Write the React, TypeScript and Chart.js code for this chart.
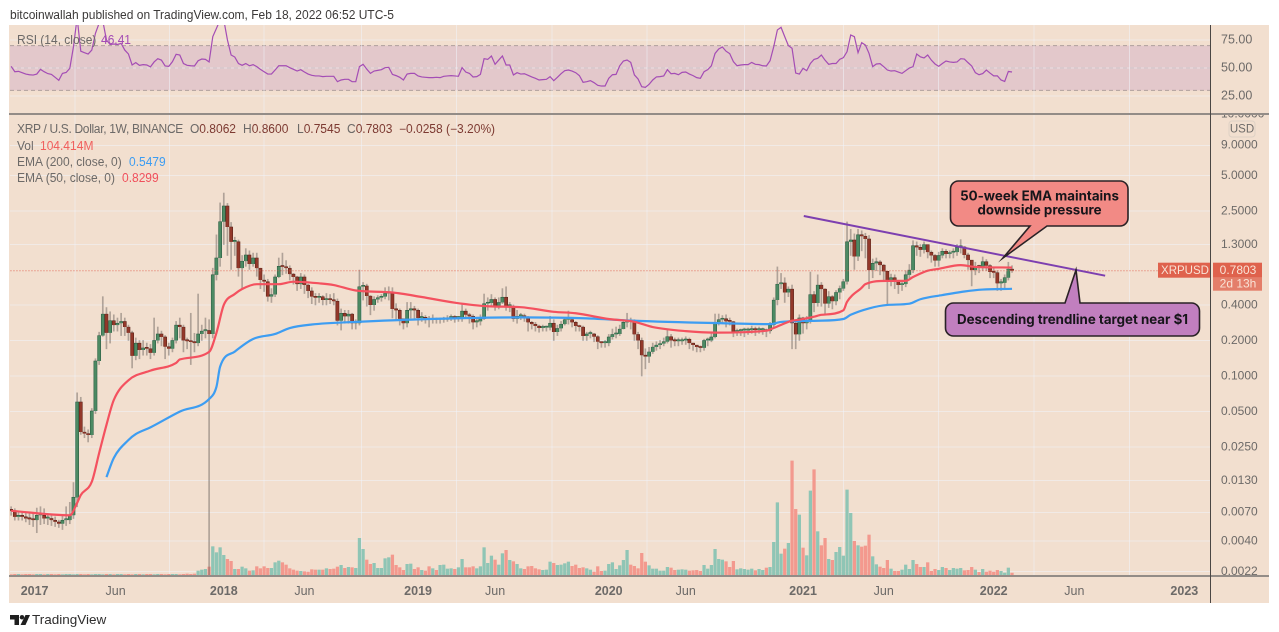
import React, { useEffect, useRef } from "react";
import { Chart, registerables } from "chart.js";

Chart.register(...registerables);

// first candle is week -7; week 0 is the first week of January 2017
const firstWeek = -7;
const firstOpen = 0.0074;

const closes = [
  .0072,.0064,.0066,.0064,.0062,.0061,.0060,.0066,.0066,.0062,
  .0062,.0060,.0058,.0056,.0060,.0060,.0066,.0094,.0602,.0335,
  .0325,.0316,.0505,.134,.22,.335,.232,.294,.27,.28,
  .29,.26,.232,.148,.19,.166,.173,.17,.157,.20,
  .227,.214,.177,.17,.20,.27,.26,.20,.197,.194,
  .19,.227,.24,.243,.227,.72,1.0,2.03,2.76,1.83,
  1.37,1.37,.82,.94,1.06,.89,1.0,.82,.65,.63,
  .47,.49,.69,.85,.84,.82,.73,.69,.60,.69,
  .59,.525,.47,.46,.47,.44,.45,.44,.43,.294,
  .34,.32,.335,.28,.28,.57,.58,.476,.40,.445,
  .46,.47,.50,.515,.37,.36,.305,.28,.36,.37,
  .36,.31,.31,.305,.30,.305,.30,.30,.30,.31,
  .315,.31,.31,.355,.33,.32,.285,.29,.305,.41,
  .415,.445,.385,.42,.465,.39,.39,.305,.32,.32,
  .315,.285,.275,.265,.255,.257,.257,.28,.236,.253,
  .275,.30,.30,.285,.265,.26,.218,.227,.227,.215,
  .195,.19,.19,.214,.225,.227,.25,.285,.294,.29,
  .225,.20,.15,.146,.16,.176,.183,.188,.195,.215,
  .20,.197,.197,.20,.205,.19,.183,.176,.173,.20,
  .20,.214,.28,.30,.305,.29,.288,.236,.24,.243,
  .243,.245,.25,.245,.245,.245,.24,.27,.44,.60,
  .615,.51,.545,.28,.225,.31,.28,.29,.49,.415,
  .59,.545,.41,.47,.43,.51,.55,.63,1.37,1.42,
  1.03,1.57,1.53,1.45,.79,.9,.925,.87,.77,.65,
  .68,.64,.59,.60,.72,.79,1.27,1.23,1.17,1.3,
  1.12,1.05,.95,1.05,1.14,1.08,1.11,1.12,1.23,1.24,
  1.06,.96,.79,.85,.84,.93,.86,.76,.75,.61,
  .615,.68,.8062,.7803,
];

const highs = [
  .0078,.0075,.0072,.0070,.0069,.0070,.0069,.0076,.0078,.0075,
  .0068,.0066,.0064,.0060,.0066,.0078,.0085,.0125,.072,.066,
  .037,.035,.053,.14,.235,.47,.38,.35,.33,.31,
  .34,.31,.27,.24,.21,.20,.20,.19,.185,.31,
  .26,.24,.22,.19,.21,.29,.31,.27,.21,.34,
  .23,.495,.27,.31,.30,.82,1.57,2.93,3.55,2.9,
  2.0,1.5,1.42,1.05,1.2,1.15,1.1,1.1,.82,.72,
  .66,.55,.72,1.0,1.1,.95,.86,.74,.7,.74,
  .72,.6,.56,.5,.5,.48,.5,.49,.5,.45,
  .37,.36,.36,.34,.3,.79,.62,.6,.48,.47,
  .48,.49,.56,.57,.56,.41,.37,.3,.42,.42,
  .39,.37,.345,.325,.32,.33,.31,.31,.315,.325,
  .33,.325,.32,.40,.37,.34,.33,.31,.33,.495,
  .46,.49,.46,.46,.55,.57,.42,.4,.36,.34,
  .335,.32,.29,.285,.27,.27,.265,.32,.30,.27,
  .29,.31,.355,.31,.29,.27,.265,.235,.24,.23,
  .22,.195,.2,.225,.25,.26,.27,.3,.34,.31,
  .30,.235,.21,.17,.175,.19,.195,.2,.21,.245,
  .225,.21,.21,.21,.215,.21,.19,.18,.18,.205,
  .21,.23,.335,.335,.325,.33,.31,.29,.25,.25,
  .255,.255,.265,.26,.26,.255,.25,.285,.46,.84,
  .74,.68,.57,.59,.30,.33,.315,.32,.76,.52,
  .72,.62,.55,.52,.48,.53,.58,.66,2.02,1.75,
  1.6,1.75,1.7,1.62,1.55,.98,1.0,.95,.88,.74,
  .73,.72,.62,.63,.78,.88,1.4,1.37,1.3,1.37,
  1.28,1.15,1.07,1.12,1.2,1.18,1.15,1.2,1.3,1.43,
  1.25,1.1,.93,.92,.87,1.02,.97,.88,.83,.78,
  .66,.72,.92,.86,
];

const lows = [
  .0066,.0060,.0060,.0060,.0058,.0055,.0053,.0047,.0055,.0056,
  .0055,.0054,.0053,.0052,.0050,.0054,.0056,.0062,.0078,.032,
  .030,.0276,.030,.048,.125,.217,.17,.19,.24,.24,
  .22,.22,.20,.117,.137,.14,.15,.15,.14,.15,
  .19,.18,.14,.15,.16,.19,.21,.16,.17,.125,
  .16,.18,.2,.21,.002,.21,.65,.85,1.3,1.05,
  .8,1.05,.7,.55,.85,.8,.85,.7,.55,.52,
  .43,.42,.47,.68,.72,.74,.65,.6,.53,.55,
  .5,.46,.41,.4,.42,.4,.4,.41,.4,.27,
  .245,.28,.28,.25,.25,.27,.44,.39,.33,.36,
  .42,.43,.45,.44,.31,.3,.27,.25,.26,.31,
  .3,.27,.29,.28,.26,.28,.28,.28,.285,.29,
  .295,.285,.29,.29,.31,.28,.25,.26,.27,.3,
  .36,.39,.36,.37,.41,.36,.35,.29,.28,.3,
  .29,.24,.25,.24,.235,.24,.24,.245,.2,.22,
  .24,.27,.275,.26,.24,.24,.2,.2,.21,.195,
  .17,.175,.175,.18,.205,.21,.22,.25,.26,.25,
  .2,.17,.1,.115,.13,.155,.165,.17,.18,.19,
  .175,.18,.18,.185,.185,.17,.165,.16,.16,.165,
  .18,.195,.21,.27,.28,.26,.27,.215,.22,.22,
  .215,.225,.23,.22,.23,.225,.215,.23,.26,.40,
  .55,.42,.47,.17,.17,.2,.23,.25,.28,.35,
  .39,.39,.33,.38,.37,.4,.45,.53,.6,1.05,
  .8,.95,1.15,1.0,.55,.68,.78,.72,.65,.4,
  .58,.55,.5,.53,.57,.68,.75,1.05,1.03,1.1,
  1.0,.92,.85,.85,1.0,1.0,1.0,1.0,1.05,1.1,
  1.0,.8,.58,.72,.75,.78,.78,.68,.68,.53,
  .53,.55,.65,.7545,
];

const volumes = [
  48,60,60,48,60,60,48,60,60,48,
  60,60,48,60,48,60,60,48,60,60,
  48,60,48,60,60,48,60,60,48,60,
  60,48,60,48,60,60,48,60,60,48,
  60,60,48,60,60,60,48,60,72,60,
  72,180,216,240,324,1056,840,1020,744,600,
  528,240,240,324,264,180,192,336,264,336,
  276,276,480,540,480,396,264,216,180,168,
  156,144,228,216,216,216,264,240,252,324,
  384,276,312,300,276,1356,960,576,420,456,
  276,276,624,660,756,384,300,204,420,432,
  240,300,204,180,336,264,204,384,396,252,
  264,240,300,600,300,300,336,264,336,1020,
  456,720,576,396,804,924,564,516,420,264,
  240,336,348,264,228,204,216,504,456,384,
  396,444,504,348,396,276,300,264,216,144,
  336,168,180,420,480,240,372,564,924,396,
  348,264,816,504,372,252,252,180,180,312,
  288,204,216,228,216,180,192,204,168,384,
  252,384,960,600,576,516,312,528,228,264,
  240,216,252,192,240,204,288,312,1212,2640,
  792,972,1176,4140,2400,2196,1008,732,3060,3828,
  1596,1092,1356,600,564,852,1032,720,3096,2256,
  1248,1092,1044,1080,1476,696,408,324,276,564,
  252,168,168,216,396,240,564,420,312,312,
  480,168,240,204,312,276,204,276,252,276,
  192,204,312,216,132,240,144,180,144,204,
  168,108,288,104,
];

const rsiValues = [
  51.5,46.7,47,45.8,44.6,44,43.7,44.6,48.8,46.7,
  45,44.3,41.7,39,45.2,46,49.7,69,95,65,
  63.7,62.5,66,81,90,92,75,71,71.4,71,
  72,66,62.5,52.7,54.8,52.4,53,52.7,51,55.4,
  58.3,57,51.8,51.5,55.7,62.2,61.6,54,52.4,52,
  51.8,56.5,58,57.7,55.4,78,85.4,93,93,75,
  61.6,59.8,54,52.4,54,52,53,51.2,48.8,46.7,
  44.6,44.6,48.2,52,52,52,50.3,48.8,47.3,48.5,
  46.4,44.6,43.5,42.9,42.9,42.3,42.6,42.6,42.6,37.8,
  39.3,39.9,39.9,37.8,37.8,51.2,53.3,49,45.2,47.3,
  47.9,48.5,50.3,50.6,44.3,43.2,41.7,39.3,44.6,45.2,
  45.2,42.9,42,41.7,41.4,41.4,41.7,41.4,42.6,42.9,
  43.2,42.9,42.6,50.3,46.4,45.2,42,42.3,44.3,58.3,
  57.7,60.7,53.3,57.1,60.7,52.7,52.7,43.8,45.8,44.6,
  44.9,43.5,42,40.8,39.3,39.6,39.9,42.3,38.7,41.7,
  44.9,47.6,48.2,47.3,45.8,43.2,37.2,37.8,38.7,36.9,
  34.5,33.9,33.9,40.8,44,44.3,52,56.2,57.1,55,
  43.8,40.2,33.3,32.7,35.4,39.3,42,42.3,42.9,48.5,
  44.9,45.2,44,46.1,46.4,44.6,43.2,41.4,40.8,46.7,
  48.5,52,63,67,68.8,65,62.8,55.7,52,52.7,
  53,53,55,53.3,53,52,51.8,56.5,69,84,
  86.3,78,70,67.6,45.5,44.6,49.7,47.6,54,57.7,
  58.6,61.6,57,53.3,54,54,57.7,59.2,64.6,79.5,
  78,63.7,72.6,70.5,63,51.2,53.6,53.9,51.2,48.2,
  47.3,47.6,46.4,45.2,47.6,50,51.2,62.5,60,59,
  61.6,57,53.6,51.5,54,56.2,55.4,55,55.4,58.3,
  58,54.8,51.8,45.8,44,45,48.2,45.5,43,43,
  39.3,38,46.9,46.41,
];

const ema50Weeks = [-7,9,11,12,15,17,19,21,25,31,38,39,47,49,51,54,56,60,66,70,77,81,87,97,105,114,123,132,141,147,156,163,168,177,185,199,201,206,208,212,214,220,221,225,226,232,237,239,243,246,252,256,266];
const ema50Values = [.0072,.0066,.0084,.0098,.0127,.0222,.0385,.0626,.092,.111,.129,.138,.16,.232,.4,.495,.546,.6,.6,.63,.61,.59,.53,.51,.467,.418,.39,.383,.35,.34,.304,.288,.26,.24,.233,.242,.255,.294,.3,.318,.33,.36,.425,.56,.6,.64,.64,.69,.78,.81,.87,.84,.8299];

const ema200Weeks = [19,21,25,27,31,39,47,49,50,54,59,65,69,75,88,104,132,150,163,187,200,203,213,220,222,227,232,238,241,247,253,258,266];
const ema200Values = [.0139,.0202,.0287,.0322,.0367,.0499,.0638,.081,.12,.161,.206,.227,.255,.273,.288,.302,.314,.308,.294,.28,.275,.287,.294,.304,.33,.374,.4,.41,.447,.485,.52,.54,.5479];

const trendWeeks = [209.2, 291.4];
const trendValues = [2.27, 0.708];

const lastPrice = 0.7803;

const priceTicks = [0.0022,0.004,0.007,0.013,0.025,0.05,0.1,0.2,0.4,1.3,2.5,5,9,16.6];
const priceTickLabels = ["0.0022","0.0040","0.0070","0.0130","0.0250","0.0500","0.1000","0.2000","0.4000","1.3000","2.5000","5.0000","9.0000","10.0000"];
const rsiTicks = [25,50,75];
const rsiTickLabels = ["25.00","50.00","75.00"];
const timeTicks = [-0.6,21.5,51,73,104,125,156,177,209,231,261,283,313];
const timeTickLabels = ["2017","Jun","2018","Jun","2019","Jun","2020","Jun","2021","Jun","2022","Jun","2023"];

const FONT = "'Liberation Sans', Arial, sans-serif";
const BOLD_FONT = "Inter, 'Liberation Sans', sans-serif";
const TEXT = "#6d6a68";
const BG = "#f2dfcf";

const weeks = closes.map((_, i) => i + firstWeek);
const opens = closes.map((_, i) => (i === 0 ? firstOpen : closes[i - 1]));
const rising = closes.map((c, i) => c >= opens[i]);

function callout(ctx: CanvasRenderingContext2D, x: number, y: number, w: number, h: number, r: number,
  tail: "top" | "bottom", t1: number, t2: number, tipX: number, tipY: number, fill: string) {
  ctx.beginPath();
  ctx.moveTo(x + r, y);
  if (tail === "top") { ctx.lineTo(t1, y); ctx.lineTo(tipX, tipY); ctx.lineTo(t2, y); }
  ctx.lineTo(x + w - r, y);
  ctx.arcTo(x + w, y, x + w, y + r, r);
  ctx.lineTo(x + w, y + h - r);
  ctx.arcTo(x + w, y + h, x + w - r, y + h, r);
  if (tail === "bottom") { ctx.lineTo(t2, y + h); ctx.lineTo(tipX, tipY); ctx.lineTo(t1, y + h); }
  ctx.lineTo(x + r, y + h);
  ctx.arcTo(x, y + h, x, y + h - r, r);
  ctx.lineTo(x, y + r);
  ctx.arcTo(x, y, x + r, y, r);
  ctx.closePath();
  ctx.fillStyle = fill;
  ctx.fill();
  ctx.lineWidth = 1.6;
  ctx.strokeStyle = "#2a2226";
  ctx.stroke();
}

const framePlugin = {
  id: "frame",
  beforeDraw(chart: any) {
    const { ctx, chartArea, scales } = chart;
    ctx.save();
    ctx.fillStyle = BG;
    ctx.fillRect(9, 25, 1260, 578);
    const y70 = scales.yRsi.getPixelForValue(70);
    const y30 = scales.yRsi.getPixelForValue(30);
    const y50 = scales.yRsi.getPixelForValue(50);
    ctx.fillStyle = "rgba(170,110,190,0.2)";
    ctx.fillRect(chartArea.left, y70, chartArea.right - chartArea.left, y30 - y70);
    ctx.restore();
    ctx.save();
    ctx.strokeStyle = "rgba(135,125,125,0.6)";
    ctx.setLineDash([4, 3]);
    for (const yy of [y70, y50, y30]) {
      ctx.beginPath();
      ctx.moveTo(chartArea.left, yy);
      ctx.lineTo(chartArea.right, yy);
      ctx.stroke();
    }
    ctx.restore();
  },
  afterDraw(chart: any) {
    const { ctx, chartArea, scales } = chart;
    ctx.save();
    // the top axis label is cut off by the pane border
    const sep = scales.y.top;
    ctx.fillStyle = BG;
    ctx.fillRect(chartArea.right + 2, sep - 8, 57, 8);
    // pane separators
    ctx.strokeStyle = "#938c87";
    ctx.lineWidth = 2;
    ctx.beginPath(); ctx.moveTo(9, sep); ctx.lineTo(1269, sep); ctx.stroke();
    ctx.beginPath(); ctx.moveTo(9, chartArea.bottom); ctx.lineTo(1269, chartArea.bottom); ctx.stroke();
    ctx.strokeStyle = "#4a4644";
    ctx.lineWidth = 1;
    ctx.beginPath(); ctx.moveTo(chartArea.right + 0.5, 25); ctx.lineTo(chartArea.right + 0.5, 603); ctx.stroke();

    // USD button
    ctx.beginPath();
    ctx.roundRect(1229, 121, 26, 16, 3);
    ctx.strokeStyle = "#dfd2c6";
    ctx.stroke();
    ctx.fillStyle = TEXT;
    ctx.font = `11.5px ${FONT}`;
    ctx.textAlign = "center";
    ctx.textBaseline = "middle";
    ctx.fillText("USD", 1242, 129.5);

    // last price tags
    const py = scales.y.getPixelForValue(lastPrice);
    ctx.fillStyle = "#df624d";
    ctx.fillRect(1158, py - 8, 52, 15);
    ctx.fillRect(1213, py - 8, 49, 15);
    ctx.fillStyle = "#e47e6a";
    ctx.fillRect(1213, py + 7, 49, 13);
    ctx.fillStyle = "#f9e3d6";
    ctx.font = `11.5px ${FONT}`;
    ctx.fillText("XRPUSD", 1185, py);
    ctx.font = `12px ${FONT}`;
    ctx.fillText("0.7803", 1238, py);
    ctx.fillText("2d 13h", 1238, py + 13.5);

    // annotations
    callout(ctx, 950.5, 181, 177.5, 45, 8, "bottom", 1030, 1047, 1003, 258, "#f28a85");
    callout(ctx, 945.5, 303, 254, 33, 8, "top", 1065, 1080, 1076, 270, "#c17fbf");
    ctx.fillStyle = "#17151a";
    ctx.font = `700 13.3px ${BOLD_FONT}`;
    ctx.fillText("50-week EMA maintains", 1039.5, 196.5);
    ctx.fillText("downside pressure", 1039.5, 210.5);
    ctx.fillText("Descending trendline target near $1", 1072.5, 320);
    ctx.restore();
  },
};

const legendLine: React.CSSProperties = {
  position: "absolute", whiteSpace: "nowrap", font: `12px ${FONT}`, color: TEXT, lineHeight: "16px",
};
const RED_VAL = "#7d3a32";

function Legend({ x, y, color, spacing, children }: { x: number; y: number; color?: string; spacing?: number; children: React.ReactNode }) {
  return <div style={{ ...legendLine, left: x, top: y, color: color ?? TEXT, letterSpacing: spacing ?? 0 }}>{children}</div>;
}

export default function App() {
  const ref = useRef<HTMLCanvasElement>(null);
  useEffect(() => {
    const fixWidth = (s: any) => { s.width = 69; };
    const chart = new Chart(ref.current!, {
      type: "bar",
      plugins: [framePlugin],
      data: {
        datasets: [
          {
            type: "line", label: "RSI", yAxisID: "yRsi", order: 1,
            data: weeks.map((x, i) => ({ x, y: rsiValues[i] })),
            borderColor: "#a44db5", borderWidth: 1.2, pointRadius: 0, tension: 0,
          },
          {
            type: "line", label: "Trend", yAxisID: "y", order: 1,
            data: trendWeeks.map((x, i) => ({ x, y: trendValues[i] })),
            borderColor: "#7d3fb0", borderWidth: 2, pointRadius: 0,
          },
          {
            type: "line", label: "Last", yAxisID: "y", order: 1,
            data: [{ x: -8, y: lastPrice }, { x: 321, y: lastPrice }],
            borderColor: "rgba(225,90,75,0.85)", borderWidth: 1, borderDash: [1, 2], pointRadius: 0,
          },
          {
            type: "line", label: "EMA 50", yAxisID: "y", order: 2,
            data: ema50Weeks.map((x, i) => ({ x, y: ema50Values[i] })),
            borderColor: "#f4515f", borderWidth: 2.2, pointRadius: 0, cubicInterpolationMode: "monotone",
          },
          {
            type: "line", label: "EMA 200", yAxisID: "y", order: 2,
            data: ema200Weeks.map((x, i) => ({ x, y: ema200Values[i] })),
            borderColor: "#3d9df2", borderWidth: 2.2, pointRadius: 0, cubicInterpolationMode: "monotone",
          },
          {
            type: "bar", label: "Body", yAxisID: "y", order: 3, grouped: false,
            data: weeks.map((x, i) => ({ x, y: [opens[i], closes[i]] })),
            backgroundColor: rising.map((u) => (u ? "#4c8a63" : "#93382a")),
            borderColor: rising.map((u) => (u ? "#2a5a40" : "#5a231a")),
            borderWidth: 0.6, barThickness: 3.2, minBarLength: 1.5,
          },
          {
            type: "bar", label: "Wick", yAxisID: "y", order: 4, grouped: false,
            data: weeks.map((x, i) => ({ x, y: [lows[i], highs[i]] })),
            backgroundColor: "rgba(95,88,84,0.45)", borderWidth: 0, barThickness: 1,
          },
          {
            type: "bar", label: "Volume", yAxisID: "yVol", order: 5, grouped: false,
            data: weeks.map((x, i) => ({ x, y: volumes[i] })),
            backgroundColor: rising.map((u) => (u ? "#8fc5b5" : "#f3998e")),
            borderWidth: 0, barThickness: 2.6,
          },
        ],
      } as any,
      options: {
        responsive: false,
        animation: false,
        devicePixelRatio: 2,
        layout: { padding: { left: 10, top: 25, right: 0, bottom: 0 } },
        plugins: { legend: { display: false }, tooltip: { enabled: false } },
        scales: {
          x: {
            type: "linear", min: -7.31, max: 320, offset: false,
            grid: { color: "rgba(240,243,250,0.55)", drawTicks: false },
            border: { display: false },
            afterBuildTicks: (s: any) => { s.ticks = timeTicks.map((value) => ({ value })); },
            afterFit: (s: any) => { s.height = 56; },
            ticks: {
              autoSkip: false, maxRotation: 0, padding: 8, color: TEXT,
              callback: (v: any) => timeTickLabels[timeTicks.indexOf(v)],
              font: (c: any) => ({ family: FONT, size: 12.5, weight: timeTickLabels[c.index] === "Jun" ? "normal" : "bold" }),
            },
          },
          yRsi: {
            type: "linear", position: "right", stack: "panes", stackWeight: 89, min: 8.93, max: 88.4,
            grid: { color: "rgba(240,243,250,0.55)", drawTicks: false },
            border: { display: false },
            afterBuildTicks: (s: any) => { s.ticks = rsiTicks.map((value) => ({ value })); },
            afterFit: fixWidth,
            ticks: {
              padding: 11, color: TEXT, font: { family: FONT, size: 12.5 },
              callback: (v: any) => rsiTickLabels[rsiTicks.indexOf(v)],
            },
          },
          y: {
            type: "logarithmic", position: "right", stack: "panes", stackWeight: 462, min: 0.002019, max: 16.6,
            grid: { color: "rgba(240,243,250,0.55)", drawTicks: false },
            border: { display: false },
            afterBuildTicks: (s: any) => { s.ticks = priceTicks.map((value) => ({ value })); },
            afterFit: fixWidth,
            ticks: {
              autoSkip: false, padding: 11, color: TEXT, font: { family: FONT, size: 12 },
              callback: (v: any) => priceTickLabels[priceTicks.indexOf(v)],
            },
          },
          yVol: {
            type: "linear", display: false, position: "right", min: 0, max: 19837,
          },
        },
      } as any,
    });
    return () => chart.destroy();
  }, []);

  return (
    <div style={{ position: "fixed", left: 0, top: 0, width: 1279, height: 632, background: "#fff", overflow: "hidden" }}>
      <canvas ref={ref} width={1279} height={632} style={{ position: "absolute", left: 0, top: 0, width: 1279, height: 632 }} />
      <Legend x={10} y={7} color="#3c3a39">bitcoinwallah published on TradingView.com, Feb 18, 2022 06:52 UTC-5</Legend>
      <Legend x={17} y={32}>RSI (14, close)</Legend>
      <Legend x={101} y={32} color="#a44db5">46.41</Legend>
      <Legend x={17} y={121} spacing={-0.33}>XRP / U.S. Dollar, 1W, BINANCE</Legend>
      <Legend x={190} y={121}>O<span style={{ color: RED_VAL }}>0.8062</span></Legend>
      <Legend x={243} y={121}>H<span style={{ color: RED_VAL }}>0.8600</span></Legend>
      <Legend x={297} y={121}>L<span style={{ color: RED_VAL }}>0.7545</span></Legend>
      <Legend x={347} y={121}>C<span style={{ color: RED_VAL }}>0.7803</span></Legend>
      <Legend x={399} y={121} color={RED_VAL}>−0.0258 (−3.20%)</Legend>
      <Legend x={17} y={138}>Vol</Legend>
      <Legend x={40} y={138} color="#f0605e">104.414M</Legend>
      <Legend x={17} y={154}>EMA (200, close, 0)</Legend>
      <Legend x={129} y={154} color="#3d9df2">0.5479</Legend>
      <Legend x={17} y={170}>EMA (50, close, 0)</Legend>
      <Legend x={122} y={170} color="#f0505c">0.8299</Legend>
      <svg style={{ position: "absolute", left: 10, top: 614 }} width="20" height="12" viewBox="0 0 20 12">
        <path d="M0 1H9V11H4.5V5.5H0Z" fill="#1f1f1f" />
        <circle cx="12" cy="3.2" r="2.2" fill="#1f1f1f" />
        <path d="M15.5 1H20L15.5 11H10.5Z" fill="#1f1f1f" />
      </svg>
      <div style={{ position: "absolute", left: 32, top: 612, font: `13.5px ${FONT}`, color: "#2f2e2e", lineHeight: "16px" }}>TradingView</div>
    </div>
  );
}
